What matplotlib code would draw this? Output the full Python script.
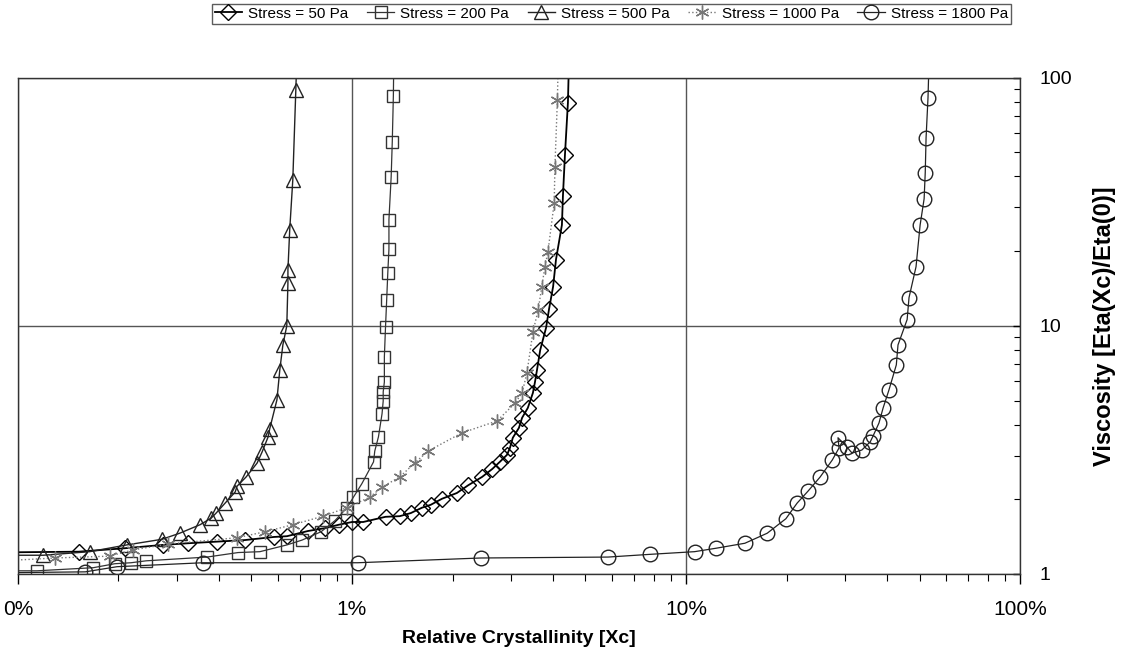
import numpy as np
import matplotlib.pyplot as plt
from matplotlib.ticker import LogLocator, NullFormatter, FixedLocator, FixedFormatter

plt.rcParams['font.family'] = ['Liberation Sans', 'DejaVu Sans']

# relative crystallinity in %, viscosity ratio Eta(Xc)/Eta(0)
x_50 = [0.08, 0.152, 0.209, 0.272, 0.323, 0.394, 0.478, 0.584, 0.639, 0.738, 0.830, 0.914, 1.00, 1.08,
        1.26, 1.39, 1.50, 1.62, 1.72, 1.86, 2.06, 2.23, 2.45, 2.63, 2.77, 2.91, 2.97, 3.03, 3.16, 3.23,
        3.36, 3.48, 3.53, 3.58, 3.66, 3.81, 3.89, 4.00, 4.08, 4.25, 4.28, 4.34, 4.43, 4.47]
y_50 = [1.22, 1.23, 1.27, 1.31, 1.33, 1.35, 1.37, 1.41, 1.42, 1.49, 1.53, 1.58, 1.62, 1.62,
        1.70, 1.71, 1.76, 1.85, 1.90, 2.01, 2.12, 2.28, 2.46, 2.65, 2.83, 3.02, 3.22, 3.54, 3.88, 4.26,
        4.67, 5.37, 5.94, 6.65, 8.00, 9.82, 11.7, 14.4, 18.5, 25.5, 33.4, 48.9, 79.3, 130]

x_200 = [0.08, 0.114, 0.168, 0.195, 0.218, 0.242, 0.368, 0.456, 0.530, 0.639, 0.709, 0.808, 0.889, 0.966,
         1.01, 1.07, 1.16, 1.17, 1.20, 1.23, 1.24, 1.24, 1.25, 1.25, 1.26, 1.27, 1.28, 1.29, 1.29, 1.31,
         1.32, 1.33, 1.335]
y_200 = [1.03, 1.03, 1.06, 1.10, 1.11, 1.13, 1.17, 1.22, 1.23, 1.31, 1.37, 1.48, 1.64, 1.85,
         2.04, 2.31, 2.83, 3.13, 3.57, 4.42, 4.98, 5.42, 5.94, 7.50, 9.91, 12.7, 16.4, 20.4, 26.8, 39.9,
         55.2, 84.6, 130]

x_500 = [0.08, 0.119, 0.164, 0.212, 0.270, 0.305, 0.351, 0.379, 0.392, 0.417, 0.447, 0.453, 0.482, 0.520,
         0.538, 0.561, 0.567, 0.596, 0.608, 0.621, 0.638, 0.643, 0.643, 0.651, 0.665, 0.679, 0.685]
y_500 = [1.19, 1.19, 1.23, 1.31, 1.38, 1.46, 1.58, 1.68, 1.76, 1.93, 2.14, 2.26, 2.46, 2.80,
         3.10, 3.57, 3.84, 5.03, 6.65, 8.38, 10.0, 14.9, 16.8, 24.4, 38.8, 89.5, 130]

x_1000 = [0.08, 0.129, 0.188, 0.221, 0.281, 0.453, 0.549, 0.666, 0.819, 0.966, 1.13, 1.23, 1.39, 1.54,
          1.69, 2.13, 2.72, 3.08, 3.23, 3.34, 3.48, 3.61, 3.70, 3.78, 3.86, 4.03, 4.05, 4.12, 4.15]
y_1000 = [1.12, 1.16, 1.18, 1.25, 1.32, 1.40, 1.48, 1.58, 1.71, 1.85, 2.04, 2.24, 2.46, 2.80,
          3.13, 3.70, 4.14, 4.89, 5.37, 6.46, 9.46, 11.6, 14.4, 17.3, 19.9, 31.3, 43.8, 81.5, 130]

x_1800 = [0.08, 0.159, 0.198, 0.358, 1.04, 2.43, 5.84, 7.80, 10.6, 12.3, 15.0, 17.5, 19.9, 21.5, 23.2,
          25.2, 27.4, 28.7, 28.5, 30.3, 31.4, 33.6, 35.6, 36.3, 37.8, 38.9, 40.5, 42.6, 43.1, 45.9,
          46.5, 48.8, 50.2, 51.6, 52.0, 52.3, 53.0, 53.5]
y_1800 = [1.01, 1.02, 1.07, 1.11, 1.11, 1.16, 1.17, 1.20, 1.23, 1.27, 1.33, 1.46, 1.67, 1.93, 2.16,
          2.46, 2.88, 3.22, 3.54, 3.25, 3.07, 3.16, 3.41, 3.60, 4.06, 4.67, 5.52, 6.96, 8.38, 10.6,
          13.0, 17.3, 25.5, 32.5, 41.4, 57.3, 83.0, 130]

x_ticks = [0.1, 1, 10, 100]
x_labels = ['0%', '1%', '10%', '100%']
y_ticks = [1, 10, 100]
y_labels = ['1', '10', '100']

fig = plt.figure(figsize=(11.21, 6.53), dpi=100)
ax = fig.add_axes([0.016, 0.121, 0.894, 0.760])

# series: label, x, y, marker, line style, colour, line width, marker size
series = [
    ('Stress = 50 Pa', x_50, y_50, 'D', '-', 'black', 1.3, 8),
    ('Stress = 200 Pa', x_200, y_200, 's', '-', '#333333', 0.9, 9),
    ('Stress = 500 Pa', x_500, y_500, '^', '-', '#222222', 1.0, 9.5),
    ('Stress = 1000 Pa', x_1000, y_1000, (6, 2, 0), ':', '#777777', 1.0, 10),
    ('Stress = 1800 Pa', x_1800, y_1800, 'o', '-', '#222222', 0.9, 10.5),
]
for label, xs, ys, mk, ls, col, lw, ms in series:
    ax.plot(xs, ys, linestyle=ls, color=col, linewidth=lw, marker=mk, markersize=ms,
            markerfacecolor='none', markeredgecolor=col, markeredgewidth=1.0, label=label)

ax.set_xscale('log')
ax.set_yscale('log')
ax.set_xlim(0.1, 100)
ax.set_ylim(1, 100)

# x axis: ticks below, outward
ax.xaxis.set_major_locator(FixedLocator(x_ticks))
ax.xaxis.set_major_formatter(FixedFormatter(x_labels))
ax.xaxis.set_minor_locator(LogLocator(base=10, subs=np.arange(2, 10)))
ax.xaxis.set_minor_formatter(NullFormatter())
ax.tick_params(axis='x', which='major', direction='out', length=7, width=1, labelsize=15, pad=12)
ax.tick_params(axis='x', which='minor', direction='out', length=5, width=0.8)

# y axis on the right side
ax.yaxis.tick_right()
ax.yaxis.set_label_position('right')
ax.yaxis.set_major_locator(FixedLocator(y_ticks))
ax.yaxis.set_major_formatter(FixedFormatter(y_labels))
ax.yaxis.set_minor_locator(LogLocator(base=10, subs=np.arange(2, 10)))
ax.yaxis.set_minor_formatter(NullFormatter())
ax.tick_params(axis='y', which='major', direction='in', length=5, width=1, labelsize=14, pad=14)
ax.tick_params(axis='y', which='minor', direction='in', length=4, width=0.8)

ax.grid(True, which='major', color='#555555', linewidth=1.0)
for sp in ax.spines.values():
    sp.set_color('#333333')
    sp.set_linewidth(1.0)

ax.set_xlabel('Relative Crystallinity [Xc]', fontsize=14, fontweight='bold', labelpad=8)
ax.set_ylabel('Viscosity [Eta(Xc)/Eta(0)]', fontsize=17, fontweight='bold', labelpad=15)

leg = fig.legend(loc='upper center', bbox_to_anchor=(0.5455, 1.006), ncol=5, fontsize=11,
                 frameon=True, fancybox=False, handlelength=1.8, handletextpad=0.4,
                 columnspacing=1.2, borderpad=0.2, edgecolor='#333333')
leg.get_frame().set_linewidth(1.0)

fig.savefig('out.png', dpi=100, facecolor='white')
